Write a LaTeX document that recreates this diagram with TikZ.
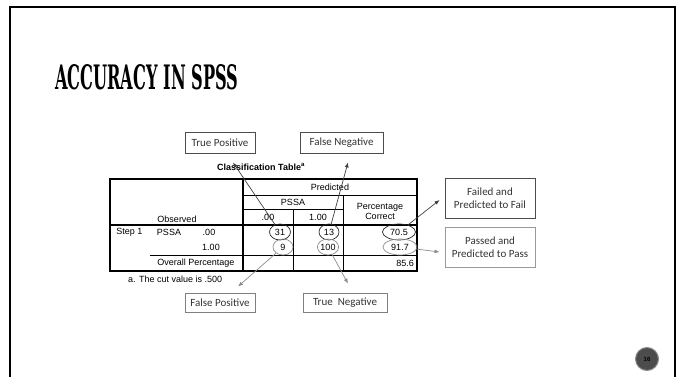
\documentclass[tikz,border=0pt]{standalone}
\usepackage{graphicx}
\usepackage{fontspec}
\setmainfont{Liberation Sans}
\newfontfamily\boxfont{Carlito}
\newfontfamily\titlefont{DejaVu Serif}
\usetikzlibrary{arrows.meta,shapes.geometric}

\tikzset{
  cell/.style={inner sep=0pt, font=\fontsize{9}{10}\selectfont},
  callout/.style={draw=black!70, line width=0.9pt, align=center, inner sep=0pt,
    text=black!80, font=\boxfont\fontsize{11}{13.5}\selectfont},
  ring/.style={ellipse, draw=black!85, line width=0.7pt, inner sep=0pt,
    minimum height=16pt, font=\fontsize{9}{10}\selectfont},
  faintring/.style={ring, draw=black!45},
  pointer/.style={draw=black!75, line width=0.7pt, -{Latex[length=5pt,width=4pt]}},
  faintpointer/.style={pointer, draw=black!45},
}

\newcommand{\clsgrid}[2]{ %TODO
  \begin{scope}[shift={(#1, #2)}]%
    \def\tabw{307}
    \def\tabh{92}
    \def\obsw{133}
    \def\headh{46}
    \def\colw{50}

    \draw[line width=1.6pt] (0, 0) rectangle (\tabw, \tabh);
    \draw[line width=1.6pt] (\obsw, 0) -- (\obsw, \tabh);
    \draw[line width=1.6pt] (0, \headh) -- (\tabw, \headh);
    \draw[line width=0.7pt] (\obsw, 16) -- (\tabw, 16);
    \draw[line width=0.7pt] (\obsw, 30) -- (\obsw+\colw+\colw, 30);
    \draw[line width=0.7pt] (\obsw+\colw, 30) -- (\obsw+\colw, \tabh);
    \draw[line width=0.7pt] (\obsw+\colw+\colw, 16) -- (\obsw+\colw+\colw, \tabh);
    \draw[line width=0.7pt] (40, 76) -- (\tabw, 76);
  \end{scope}
}

\begin{document}
\begin{tikzpicture}[x=1pt, y=-1pt]
\useasboundingbox (0, 0) rectangle (686, 377);

% slide frame
\draw[line width=2.5pt] (10, 377) -- (10, 7) -- (675, 7) -- (675, 377);
\node[anchor=south west, inner sep=0pt] (title) at (55, 90)
  {\resizebox{183pt}{25pt}{\titlefont\bfseries ACCURACY IN SPSS}};

\node[cell, font=\bfseries\fontsize{9}{10}\selectfont] (ctitle) at (261, 167)
  {Classification Table\textsuperscript{a}};

\clsgrid{110}{179}

\node[cell] (hpred) at (330, 187) {Predicted};
\node[cell] (hpssa) at (293, 202) {PSSA};
\node[cell] (hzero) at (268, 217) {.00};
\node[cell] (hone) at (318, 217) {1.00};
\node[cell, align=center] (hpct) at (380, 211) {Percentage\\Correct};
\node[cell] (hobs) at (177, 219) {Observed};

\node[cell] (rstep) at (129.5, 232) {Step 1};
\node[cell] (rpssa) at (169, 232) {PSSA};
\node[cell] (rzero) at (209, 232) {.00};
\node[cell] (rone) at (211, 247) {1.00};
\node[cell] (rall) at (196, 263) {Overall Percentage};

\node[ring, minimum width=21pt] (v31) at (280, 232) {31};
\node[ring, minimum width=20pt] (v13) at (329, 232) {13};
\node[ring, minimum width=33pt] (v705) at (399, 232) {70.5};
\node[faintring, minimum width=20pt] (v9) at (283, 247) {9};
\node[faintring, minimum width=20pt] (v100) at (328, 247) {100};
\node[faintring, minimum width=34pt] (v917) at (400, 247) {91.7};
\node[cell, anchor=east] (v856) at (414, 263) {85.6};

\node[cell, anchor=west] (cutnote) at (128, 279) {a. The cut value is .500};

\node[callout, minimum width=70pt, minimum height=21pt] (tp) at (220, 142.5) {True Positive};
\node[callout, minimum width=83pt, minimum height=21pt] (fn) at (341.5, 142.5) {False Negative};
\node[callout, minimum width=90pt, minimum height=40pt] (fail) at (490, 198)
  {Failed and\\Predicted to Fail};
\node[callout, draw=black!40, minimum width=90pt, minimum height=40pt] (pass) at (490, 247)
  {Passed and\\Predicted to Pass};
\node[callout, draw=black!50, minimum width=70pt, minimum height=19pt] (fp) at (220, 302.5) {False Positive};
\node[callout, draw=black!50, minimum width=84pt, minimum height=19pt] (tn) at (345, 302.5) {True\ \ Negative};

\draw[pointer] (v31) -- ([xshift=13pt, yshift=-9pt]tp.south);
\draw[pointer] (v13) -- ([xshift=6.5pt, yshift=-9pt]fn.south);
\draw[pointer] (v705) -- ([xshift=-5pt, yshift=-2pt]fail.west);
\draw[faintpointer] (v917) -- ([xshift=-5pt, yshift=-5pt]pass.west);
\draw[faintpointer] (v9) -- ([xshift=18pt, yshift=6pt]fp.north);
\draw[faintpointer] (v100) -- ([xshift=3pt, yshift=9pt]tn.north);

\node[circle, fill=black!70, draw=black!45, line width=1pt, minimum size=23pt, inner sep=0pt,
  font=\bfseries\fontsize{6}{6}\selectfont] (pagenum) at (647, 359) {16};

\end{tikzpicture}
\end{document}
